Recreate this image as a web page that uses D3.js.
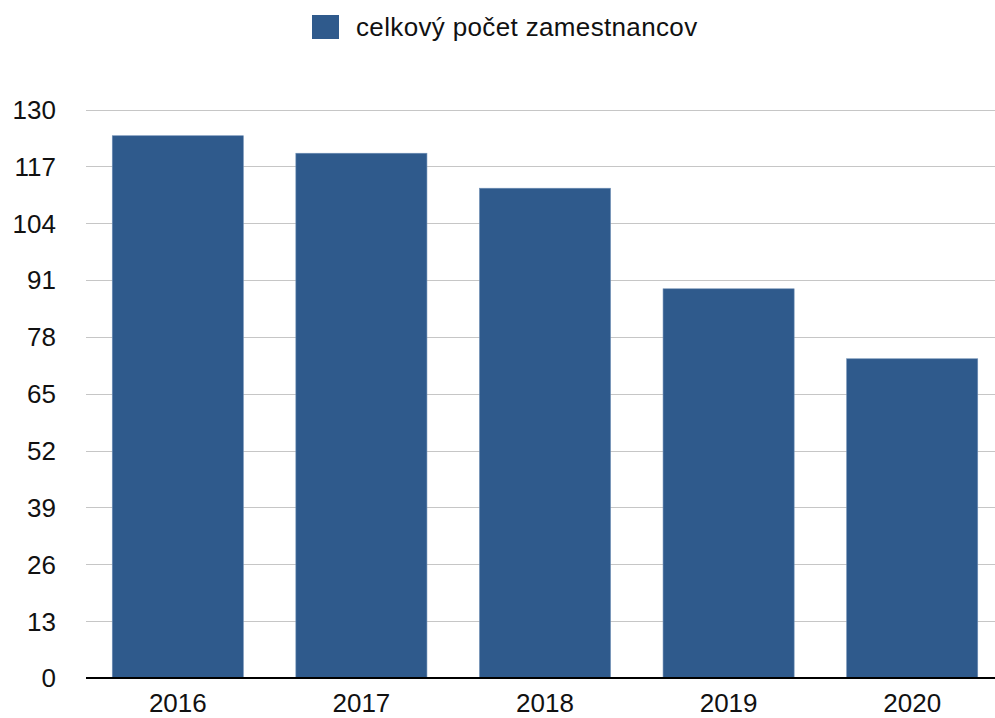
<!DOCTYPE html>
<html>
<head>
<meta charset="utf-8">
<script src="https://cdn.jsdelivr.net/npm/d3@7"></script>
<style>
  body { margin: 0; background: #fff; }
  svg text { font-family: "Liberation Sans", Arial, Helvetica, sans-serif; fill: #111; }
</style>
</head>
<body>
<div id="chart"></div>
<script>
// data
const years = ['2016', '2017', '2018', '2019', '2020'];
const employees = [124, 120, 112, 89, 73];
const yTicks = [0, 13, 26, 39, 52, 65, 78, 91, 104, 117, 130];
const seriesName = 'celkový počet zamestnancov';

const width = 995;
const height = 718;
const barColor = '#2f5a8c';
const fontSize = 26;

const svg = d3.select('#chart').append('svg')
    .attr('width', width)
    .attr('height', height);

const x = d3.scaleBand()
    .domain(years)
    .range([86, 1004])
    .paddingInner(0.286)
    .paddingOuter(0.143);

const y = d3.scaleLinear()
    .domain([0, 130])
    .range([678, 109.5]);

// gridlines
svg.append('g')
    .selectAll('line')
    .data(yTicks.filter(d => d > 0))
    .join('line')
    .attr('x1', 86)
    .attr('x2', width)
    .attr('y1', d => Math.round(y(d)) + 0.5)
    .attr('y2', d => Math.round(y(d)) + 0.5)
    .attr('stroke', '#c6c6c6')
    .attr('stroke-width', 1.2);

// y labels
svg.append('g')
    .selectAll('text')
    .data(yTicks)
    .join('text')
    .attr('x', 56)
    .attr('y', d => y(d))
    .attr('dy', '0.36em')
    .attr('text-anchor', 'end')
    .attr('font-size', fontSize)
    .text(d => d);

// bars
svg.append('g')
    .selectAll('rect')
    .data(employees)
    .join('rect')
    .attr('x', (d, i) => x(years[i]))
    .attr('y', d => y(d))
    .attr('width', x.bandwidth())
    .attr('height', d => y(0) - y(d))
    .attr('fill', barColor)
    .attr('stroke', '#6f8fb5')
    .attr('stroke-width', 0.6);

// baseline
svg.append('line')
    .attr('x1', 86)
    .attr('x2', width)
    .attr('y1', y(0))
    .attr('y2', y(0))
    .attr('stroke', '#000')
    .attr('stroke-width', 2);

// x labels
svg.append('g')
    .selectAll('text')
    .data(years)
    .join('text')
    .attr('x', d => x(d) + x.bandwidth() / 2)
    .attr('y', 712)
    .attr('text-anchor', 'middle')
    .attr('font-size', fontSize)
    .text(d => d);

// legend
const legend = svg.append('g').attr('transform', 'translate(312,15)');
legend.append('rect')
    .attr('width', 27)
    .attr('height', 24)
    .attr('fill', barColor);
legend.append('text')
    .attr('x', 44)
    .attr('y', 21)
    .attr('font-size', fontSize)
    .attr('letter-spacing', 0.35)
    .text(seriesName);
</script>
</body>
</html>
